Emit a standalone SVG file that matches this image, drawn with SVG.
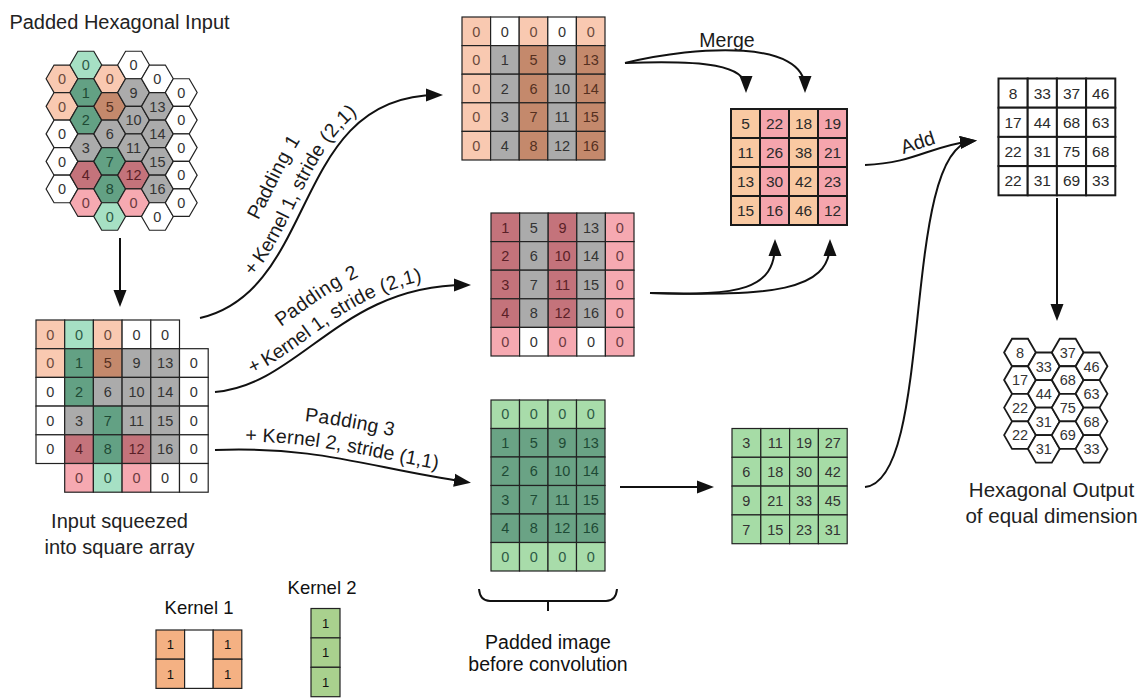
<svg xmlns="http://www.w3.org/2000/svg" width="1145" height="698" viewBox="0 0 1145 698">
<style>
text{font-family:"Liberation Sans","DejaVu Sans",sans-serif;fill:#222}
.t{font-size:20px;text-anchor:middle}
.t2{font-size:20.5px;text-anchor:middle}
.lbl{font-size:19.5px;text-anchor:middle;fill:#1a1a1a}
.cal{font-size:19.5px;text-anchor:middle;fill:#111}
.kl{font-size:18.5px;text-anchor:middle;fill:#111}
.n{font-size:14.5px;text-anchor:middle;fill:#333}
.nb{font-size:15.5px;text-anchor:middle;fill:#2a2a2a}
.k{font-size:13px;text-anchor:middle;fill:#111}
.cell rect,.cell use{stroke:#222;stroke-width:1.2}
.thick rect{stroke:#1a1a1a;stroke-width:2}
.hexo use{stroke:#1a1a1a;stroke-width:1.8;fill:#fff}
.w{fill:#fff}.oL{fill:#f9c9b1}.br{fill:#c4896c}.g{fill:#ababab}.gD{fill:#63a184}.gL{fill:#a6e0c4}
.rD{fill:#c4737b}.pk{fill:#f6a9b1}.gL3{fill:#a8dcaa}.gD3{fill:#6aa385}.gR{fill:#a6dca6}
.pe{fill:#f9c9a2}.pi{fill:#f5a5ad}.k1{fill:#f4b183}.k2{fill:#a9d18e}
.noL{fill:#6b4a3c}.ngD{fill:#1e4a35}.nrD{fill:#5a1f27}.nbr{fill:#55301f}.npk{fill:#6b3a40}.ngL{fill:#2d5a45}
.conn path,.conn line{fill:none;stroke:#111;stroke-width:2}
</style>
<defs>
<path id="hx" d="M-15.9,0L-7.95,-13.77L7.95,-13.77L15.9,0L7.95,13.77L-7.95,13.77Z"/>
<marker id="ah" markerUnits="userSpaceOnUse" markerWidth="17" markerHeight="14" viewBox="0 0 17 14" refX="12" refY="7" orient="auto"><path d="M0,0.5L17,7L0,13.5z" fill="#111"/></marker>
</defs>

<g id="hex-input" class="cell">
<text class="t" x="119.5" y="29">Padded Hexagonal Input</text>
<use href="#hx" x="62" y="78.8" class="oL"/><text class="n noL" x="62" y="84">0</text>
<use href="#hx" x="62" y="106.34" class="oL"/><text class="n noL" x="62" y="111.5">0</text>
<use href="#hx" x="62" y="133.88" class="w"/><text class="n" x="62" y="139.1">0</text>
<use href="#hx" x="62" y="161.42" class="w"/><text class="n" x="62" y="166.6">0</text>
<use href="#hx" x="62" y="188.96" class="w"/><text class="n" x="62" y="194.2">0</text>
<use href="#hx" x="85.85" y="65" class="gL"/><text class="n ngL" x="85.85" y="70.2">0</text>
<use href="#hx" x="85.85" y="92.54" class="gD"/><text class="n ngD" x="85.85" y="97.7">1</text>
<use href="#hx" x="85.85" y="120.08" class="gD"/><text class="n ngD" x="85.85" y="125.3">2</text>
<use href="#hx" x="85.85" y="147.62" class="g"/><text class="n" x="85.85" y="152.8">3</text>
<use href="#hx" x="85.85" y="175.16" class="rD"/><text class="n nrD" x="85.85" y="180.4">4</text>
<use href="#hx" x="85.85" y="202.7" class="pk"/><text class="n npk" x="85.85" y="207.9">0</text>
<use href="#hx" x="109.7" y="78.8" class="oL"/><text class="n noL" x="109.7" y="84">0</text>
<use href="#hx" x="109.7" y="106.34" class="br"/><text class="n nbr" x="109.7" y="111.5">5</text>
<use href="#hx" x="109.7" y="133.88" class="g"/><text class="n" x="109.7" y="139.1">6</text>
<use href="#hx" x="109.7" y="161.42" class="gD"/><text class="n ngD" x="109.7" y="166.6">7</text>
<use href="#hx" x="109.7" y="188.96" class="gD"/><text class="n ngD" x="109.7" y="194.2">8</text>
<use href="#hx" x="109.7" y="216.5" class="gL"/><text class="n ngL" x="109.7" y="221.7">0</text>
<use href="#hx" x="133.55" y="65" class="w"/><text class="n" x="133.55" y="70.2">0</text>
<use href="#hx" x="133.55" y="92.54" class="g"/><text class="n" x="133.55" y="97.7">9</text>
<use href="#hx" x="133.55" y="120.08" class="g"/><text class="n" x="133.55" y="125.3">10</text>
<use href="#hx" x="133.55" y="147.62" class="g"/><text class="n" x="133.55" y="152.8">11</text>
<use href="#hx" x="133.55" y="175.16" class="rD"/><text class="n nrD" x="133.55" y="180.4">12</text>
<use href="#hx" x="133.55" y="202.7" class="pk"/><text class="n npk" x="133.55" y="207.9">0</text>
<use href="#hx" x="157.4" y="78.8" class="w"/><text class="n" x="157.4" y="84">0</text>
<use href="#hx" x="157.4" y="106.34" class="g"/><text class="n" x="157.4" y="111.5">13</text>
<use href="#hx" x="157.4" y="133.88" class="g"/><text class="n" x="157.4" y="139.1">14</text>
<use href="#hx" x="157.4" y="161.42" class="g"/><text class="n" x="157.4" y="166.6">15</text>
<use href="#hx" x="157.4" y="188.96" class="g"/><text class="n" x="157.4" y="194.2">16</text>
<use href="#hx" x="157.4" y="216.5" class="w"/><text class="n" x="157.4" y="221.7">0</text>
<use href="#hx" x="181.25" y="92.54" class="w"/><text class="n" x="181.25" y="97.7">0</text>
<use href="#hx" x="181.25" y="120.08" class="w"/><text class="n" x="181.25" y="125.3">0</text>
<use href="#hx" x="181.25" y="147.62" class="w"/><text class="n" x="181.25" y="152.8">0</text>
<use href="#hx" x="181.25" y="175.16" class="w"/><text class="n" x="181.25" y="180.4">0</text>
<use href="#hx" x="181.25" y="202.7" class="w"/><text class="n" x="181.25" y="207.9">0</text>
</g>

<g id="square-array" class="cell">
<g transform="translate(36,320)">
<rect x="0" y="0" width="28.7" height="28.7" class="oL"/><text class="n noL" x="14.35" y="19.55">0</text>
<rect x="28.7" y="0" width="28.7" height="28.7" class="gL"/><text class="n ngL" x="43.05" y="19.55">0</text>
<rect x="57.4" y="0" width="28.7" height="28.7" class="oL"/><text class="n noL" x="71.75" y="19.55">0</text>
<rect x="86.1" y="0" width="28.7" height="28.7" class="w"/><text class="n" x="100.45" y="19.55">0</text>
<rect x="114.8" y="0" width="28.7" height="28.7" class="w"/><text class="n" x="129.15" y="19.55">0</text>
<rect x="0" y="28.7" width="28.7" height="28.7" class="oL"/><text class="n noL" x="14.35" y="48.25">0</text>
<rect x="28.7" y="28.7" width="28.7" height="28.7" class="gD"/><text class="n ngD" x="43.05" y="48.25">1</text>
<rect x="57.4" y="28.7" width="28.7" height="28.7" class="br"/><text class="n nbr" x="71.75" y="48.25">5</text>
<rect x="86.1" y="28.7" width="28.7" height="28.7" class="g"/><text class="n" x="100.45" y="48.25">9</text>
<rect x="114.8" y="28.7" width="28.7" height="28.7" class="g"/><text class="n" x="129.15" y="48.25">13</text>
<rect x="143.5" y="28.7" width="28.7" height="28.7" class="w"/><text class="n" x="157.85" y="48.25">0</text>
<rect x="0" y="57.4" width="28.7" height="28.7" class="w"/><text class="n" x="14.35" y="76.95">0</text>
<rect x="28.7" y="57.4" width="28.7" height="28.7" class="gD"/><text class="n ngD" x="43.05" y="76.95">2</text>
<rect x="57.4" y="57.4" width="28.7" height="28.7" class="g"/><text class="n" x="71.75" y="76.95">6</text>
<rect x="86.1" y="57.4" width="28.7" height="28.7" class="g"/><text class="n" x="100.45" y="76.95">10</text>
<rect x="114.8" y="57.4" width="28.7" height="28.7" class="g"/><text class="n" x="129.15" y="76.95">14</text>
<rect x="143.5" y="57.4" width="28.7" height="28.7" class="w"/><text class="n" x="157.85" y="76.95">0</text>
<rect x="0" y="86.1" width="28.7" height="28.7" class="w"/><text class="n" x="14.35" y="105.65">0</text>
<rect x="28.7" y="86.1" width="28.7" height="28.7" class="g"/><text class="n" x="43.05" y="105.65">3</text>
<rect x="57.4" y="86.1" width="28.7" height="28.7" class="gD"/><text class="n ngD" x="71.75" y="105.65">7</text>
<rect x="86.1" y="86.1" width="28.7" height="28.7" class="g"/><text class="n" x="100.45" y="105.65">11</text>
<rect x="114.8" y="86.1" width="28.7" height="28.7" class="g"/><text class="n" x="129.15" y="105.65">15</text>
<rect x="143.5" y="86.1" width="28.7" height="28.7" class="w"/><text class="n" x="157.85" y="105.65">0</text>
<rect x="0" y="114.8" width="28.7" height="28.7" class="w"/><text class="n" x="14.35" y="134.35">0</text>
<rect x="28.7" y="114.8" width="28.7" height="28.7" class="rD"/><text class="n nrD" x="43.05" y="134.35">4</text>
<rect x="57.4" y="114.8" width="28.7" height="28.7" class="gD"/><text class="n ngD" x="71.75" y="134.35">8</text>
<rect x="86.1" y="114.8" width="28.7" height="28.7" class="rD"/><text class="n nrD" x="100.45" y="134.35">12</text>
<rect x="114.8" y="114.8" width="28.7" height="28.7" class="g"/><text class="n" x="129.15" y="134.35">16</text>
<rect x="143.5" y="114.8" width="28.7" height="28.7" class="w"/><text class="n" x="157.85" y="134.35">0</text>
<rect x="28.7" y="143.5" width="28.7" height="28.7" class="pk"/><text class="n npk" x="43.05" y="163.05">0</text>
<rect x="57.4" y="143.5" width="28.7" height="28.7" class="gL"/><text class="n ngL" x="71.75" y="163.05">0</text>
<rect x="86.1" y="143.5" width="28.7" height="28.7" class="pk"/><text class="n npk" x="100.45" y="163.05">0</text>
<rect x="114.8" y="143.5" width="28.7" height="28.7" class="w"/><text class="n" x="129.15" y="163.05">0</text>
<rect x="143.5" y="143.5" width="28.7" height="28.7" class="w"/><text class="n" x="157.85" y="163.05">0</text>
</g>
<text class="t" x="119.5" y="528">Input squeezed</text>
<text class="t" x="119.5" y="554">into square array</text>
</g>

<g id="pad1" class="cell" transform="translate(462,17)">
<rect x="0" y="0" width="28.6" height="28.6" class="oL"/><text class="n noL" x="14.3" y="19.5">0</text>
<rect x="28.6" y="0" width="28.6" height="28.6" class="w"/><text class="n" x="42.9" y="19.5">0</text>
<rect x="57.2" y="0" width="28.6" height="28.6" class="oL"/><text class="n noL" x="71.5" y="19.5">0</text>
<rect x="85.8" y="0" width="28.6" height="28.6" class="w"/><text class="n" x="100.1" y="19.5">0</text>
<rect x="114.4" y="0" width="28.6" height="28.6" class="oL"/><text class="n noL" x="128.7" y="19.5">0</text>
<rect x="0" y="28.6" width="28.6" height="28.6" class="oL"/><text class="n noL" x="14.3" y="48.1">0</text>
<rect x="28.6" y="28.6" width="28.6" height="28.6" class="g"/><text class="n" x="42.9" y="48.1">1</text>
<rect x="57.2" y="28.6" width="28.6" height="28.6" class="br"/><text class="n nbr" x="71.5" y="48.1">5</text>
<rect x="85.8" y="28.6" width="28.6" height="28.6" class="g"/><text class="n" x="100.1" y="48.1">9</text>
<rect x="114.4" y="28.6" width="28.6" height="28.6" class="br"/><text class="n nbr" x="128.7" y="48.1">13</text>
<rect x="0" y="57.2" width="28.6" height="28.6" class="oL"/><text class="n noL" x="14.3" y="76.7">0</text>
<rect x="28.6" y="57.2" width="28.6" height="28.6" class="g"/><text class="n" x="42.9" y="76.7">2</text>
<rect x="57.2" y="57.2" width="28.6" height="28.6" class="br"/><text class="n nbr" x="71.5" y="76.7">6</text>
<rect x="85.8" y="57.2" width="28.6" height="28.6" class="g"/><text class="n" x="100.1" y="76.7">10</text>
<rect x="114.4" y="57.2" width="28.6" height="28.6" class="br"/><text class="n nbr" x="128.7" y="76.7">14</text>
<rect x="0" y="85.8" width="28.6" height="28.6" class="oL"/><text class="n noL" x="14.3" y="105.3">0</text>
<rect x="28.6" y="85.8" width="28.6" height="28.6" class="g"/><text class="n" x="42.9" y="105.3">3</text>
<rect x="57.2" y="85.8" width="28.6" height="28.6" class="br"/><text class="n nbr" x="71.5" y="105.3">7</text>
<rect x="85.8" y="85.8" width="28.6" height="28.6" class="g"/><text class="n" x="100.1" y="105.3">11</text>
<rect x="114.4" y="85.8" width="28.6" height="28.6" class="br"/><text class="n nbr" x="128.7" y="105.3">15</text>
<rect x="0" y="114.4" width="28.6" height="28.6" class="oL"/><text class="n noL" x="14.3" y="133.9">0</text>
<rect x="28.6" y="114.4" width="28.6" height="28.6" class="g"/><text class="n" x="42.9" y="133.9">4</text>
<rect x="57.2" y="114.4" width="28.6" height="28.6" class="br"/><text class="n nbr" x="71.5" y="133.9">8</text>
<rect x="85.8" y="114.4" width="28.6" height="28.6" class="g"/><text class="n" x="100.1" y="133.9">12</text>
<rect x="114.4" y="114.4" width="28.6" height="28.6" class="br"/><text class="n nbr" x="128.7" y="133.9">16</text>
</g>

<g id="pad2" class="cell" transform="translate(491,213)">
<rect x="0" y="0" width="28.6" height="28.6" class="rD"/><text class="n nrD" x="14.3" y="19.5">1</text>
<rect x="28.6" y="0" width="28.6" height="28.6" class="g"/><text class="n" x="42.9" y="19.5">5</text>
<rect x="57.2" y="0" width="28.6" height="28.6" class="rD"/><text class="n nrD" x="71.5" y="19.5">9</text>
<rect x="85.8" y="0" width="28.6" height="28.6" class="g"/><text class="n" x="100.1" y="19.5">13</text>
<rect x="114.4" y="0" width="28.6" height="28.6" class="pk"/><text class="n npk" x="128.7" y="19.5">0</text>
<rect x="0" y="28.6" width="28.6" height="28.6" class="rD"/><text class="n nrD" x="14.3" y="48.1">2</text>
<rect x="28.6" y="28.6" width="28.6" height="28.6" class="g"/><text class="n" x="42.9" y="48.1">6</text>
<rect x="57.2" y="28.6" width="28.6" height="28.6" class="rD"/><text class="n nrD" x="71.5" y="48.1">10</text>
<rect x="85.8" y="28.6" width="28.6" height="28.6" class="g"/><text class="n" x="100.1" y="48.1">14</text>
<rect x="114.4" y="28.6" width="28.6" height="28.6" class="pk"/><text class="n npk" x="128.7" y="48.1">0</text>
<rect x="0" y="57.2" width="28.6" height="28.6" class="rD"/><text class="n nrD" x="14.3" y="76.7">3</text>
<rect x="28.6" y="57.2" width="28.6" height="28.6" class="g"/><text class="n" x="42.9" y="76.7">7</text>
<rect x="57.2" y="57.2" width="28.6" height="28.6" class="rD"/><text class="n nrD" x="71.5" y="76.7">11</text>
<rect x="85.8" y="57.2" width="28.6" height="28.6" class="g"/><text class="n" x="100.1" y="76.7">15</text>
<rect x="114.4" y="57.2" width="28.6" height="28.6" class="pk"/><text class="n npk" x="128.7" y="76.7">0</text>
<rect x="0" y="85.8" width="28.6" height="28.6" class="rD"/><text class="n nrD" x="14.3" y="105.3">4</text>
<rect x="28.6" y="85.8" width="28.6" height="28.6" class="g"/><text class="n" x="42.9" y="105.3">8</text>
<rect x="57.2" y="85.8" width="28.6" height="28.6" class="rD"/><text class="n nrD" x="71.5" y="105.3">12</text>
<rect x="85.8" y="85.8" width="28.6" height="28.6" class="g"/><text class="n" x="100.1" y="105.3">16</text>
<rect x="114.4" y="85.8" width="28.6" height="28.6" class="pk"/><text class="n npk" x="128.7" y="105.3">0</text>
<rect x="0" y="114.4" width="28.6" height="28.6" class="pk"/><text class="n npk" x="14.3" y="133.9">0</text>
<rect x="28.6" y="114.4" width="28.6" height="28.6" class="w"/><text class="n" x="42.9" y="133.9">0</text>
<rect x="57.2" y="114.4" width="28.6" height="28.6" class="pk"/><text class="n npk" x="71.5" y="133.9">0</text>
<rect x="85.8" y="114.4" width="28.6" height="28.6" class="w"/><text class="n" x="100.1" y="133.9">0</text>
<rect x="114.4" y="114.4" width="28.6" height="28.6" class="pk"/><text class="n npk" x="128.7" y="133.9">0</text>
</g>

<g id="pad3" class="cell" transform="translate(491,400)">
<rect x="0" y="0" width="28.5" height="28.5" class="gL3"/><text class="n ngL" x="14.25" y="19.45">0</text>
<rect x="28.5" y="0" width="28.5" height="28.5" class="gL3"/><text class="n ngL" x="42.75" y="19.45">0</text>
<rect x="57" y="0" width="28.5" height="28.5" class="gL3"/><text class="n ngL" x="71.25" y="19.45">0</text>
<rect x="85.5" y="0" width="28.5" height="28.5" class="gL3"/><text class="n ngL" x="99.75" y="19.45">0</text>
<rect x="0" y="28.5" width="28.5" height="28.5" class="gD3"/><text class="n ngD" x="14.25" y="47.95">1</text>
<rect x="28.5" y="28.5" width="28.5" height="28.5" class="gD3"/><text class="n ngD" x="42.75" y="47.95">5</text>
<rect x="57" y="28.5" width="28.5" height="28.5" class="gD3"/><text class="n ngD" x="71.25" y="47.95">9</text>
<rect x="85.5" y="28.5" width="28.5" height="28.5" class="gD3"/><text class="n ngD" x="99.75" y="47.95">13</text>
<rect x="0" y="57" width="28.5" height="28.5" class="gD3"/><text class="n ngD" x="14.25" y="76.45">2</text>
<rect x="28.5" y="57" width="28.5" height="28.5" class="gD3"/><text class="n ngD" x="42.75" y="76.45">6</text>
<rect x="57" y="57" width="28.5" height="28.5" class="gD3"/><text class="n ngD" x="71.25" y="76.45">10</text>
<rect x="85.5" y="57" width="28.5" height="28.5" class="gD3"/><text class="n ngD" x="99.75" y="76.45">14</text>
<rect x="0" y="85.5" width="28.5" height="28.5" class="gD3"/><text class="n ngD" x="14.25" y="104.95">3</text>
<rect x="28.5" y="85.5" width="28.5" height="28.5" class="gD3"/><text class="n ngD" x="42.75" y="104.95">7</text>
<rect x="57" y="85.5" width="28.5" height="28.5" class="gD3"/><text class="n ngD" x="71.25" y="104.95">11</text>
<rect x="85.5" y="85.5" width="28.5" height="28.5" class="gD3"/><text class="n ngD" x="99.75" y="104.95">15</text>
<rect x="0" y="114" width="28.5" height="28.5" class="gD3"/><text class="n ngD" x="14.25" y="133.45">4</text>
<rect x="28.5" y="114" width="28.5" height="28.5" class="gD3"/><text class="n ngD" x="42.75" y="133.45">8</text>
<rect x="57" y="114" width="28.5" height="28.5" class="gD3"/><text class="n ngD" x="71.25" y="133.45">12</text>
<rect x="85.5" y="114" width="28.5" height="28.5" class="gD3"/><text class="n ngD" x="99.75" y="133.45">16</text>
<rect x="0" y="142.5" width="28.5" height="28.5" class="gL3"/><text class="n ngL" x="14.25" y="161.95">0</text>
<rect x="28.5" y="142.5" width="28.5" height="28.5" class="gL3"/><text class="n ngL" x="42.75" y="161.95">0</text>
<rect x="57" y="142.5" width="28.5" height="28.5" class="gL3"/><text class="n ngL" x="71.25" y="161.95">0</text>
<rect x="85.5" y="142.5" width="28.5" height="28.5" class="gL3"/><text class="n ngL" x="99.75" y="161.95">0</text>
</g>

<g id="merged" class="cell thick" transform="translate(731,109)">
<rect x="0" y="0" width="29" height="29" class="pe"/><text class="nb" x="14.5" y="20">5</text>
<rect x="29" y="0" width="29" height="29" class="pi"/><text class="nb" x="43.5" y="20">22</text>
<rect x="58" y="0" width="29" height="29" class="pe"/><text class="nb" x="72.5" y="20">18</text>
<rect x="87" y="0" width="29" height="29" class="pi"/><text class="nb" x="101.5" y="20">19</text>
<rect x="0" y="29" width="29" height="29" class="pe"/><text class="nb" x="14.5" y="49">11</text>
<rect x="29" y="29" width="29" height="29" class="pi"/><text class="nb" x="43.5" y="49">26</text>
<rect x="58" y="29" width="29" height="29" class="pe"/><text class="nb" x="72.5" y="49">38</text>
<rect x="87" y="29" width="29" height="29" class="pi"/><text class="nb" x="101.5" y="49">21</text>
<rect x="0" y="58" width="29" height="29" class="pe"/><text class="nb" x="14.5" y="78">13</text>
<rect x="29" y="58" width="29" height="29" class="pi"/><text class="nb" x="43.5" y="78">30</text>
<rect x="58" y="58" width="29" height="29" class="pe"/><text class="nb" x="72.5" y="78">42</text>
<rect x="87" y="58" width="29" height="29" class="pi"/><text class="nb" x="101.5" y="78">23</text>
<rect x="0" y="87" width="29" height="29" class="pe"/><text class="nb" x="14.5" y="107">15</text>
<rect x="29" y="87" width="29" height="29" class="pi"/><text class="nb" x="43.5" y="107">16</text>
<rect x="58" y="87" width="29" height="29" class="pe"/><text class="nb" x="72.5" y="107">46</text>
<rect x="87" y="87" width="29" height="29" class="pi"/><text class="nb" x="101.5" y="107">12</text>
</g>

<g id="conv3" class="cell" transform="translate(732,428.5)">
<rect x="0" y="0" width="28.8" height="28.8" class="gR"/><text class="n" x="14.4" y="19.6">3</text>
<rect x="28.8" y="0" width="28.8" height="28.8" class="gR"/><text class="n" x="43.2" y="19.6">11</text>
<rect x="57.6" y="0" width="28.8" height="28.8" class="gR"/><text class="n" x="72" y="19.6">19</text>
<rect x="86.4" y="0" width="28.8" height="28.8" class="gR"/><text class="n" x="100.8" y="19.6">27</text>
<rect x="0" y="28.8" width="28.8" height="28.8" class="gR"/><text class="n" x="14.4" y="48.4">6</text>
<rect x="28.8" y="28.8" width="28.8" height="28.8" class="gR"/><text class="n" x="43.2" y="48.4">18</text>
<rect x="57.6" y="28.8" width="28.8" height="28.8" class="gR"/><text class="n" x="72" y="48.4">30</text>
<rect x="86.4" y="28.8" width="28.8" height="28.8" class="gR"/><text class="n" x="100.8" y="48.4">42</text>
<rect x="0" y="57.6" width="28.8" height="28.8" class="gR"/><text class="n" x="14.4" y="77.2">9</text>
<rect x="28.8" y="57.6" width="28.8" height="28.8" class="gR"/><text class="n" x="43.2" y="77.2">21</text>
<rect x="57.6" y="57.6" width="28.8" height="28.8" class="gR"/><text class="n" x="72" y="77.2">33</text>
<rect x="86.4" y="57.6" width="28.8" height="28.8" class="gR"/><text class="n" x="100.8" y="77.2">45</text>
<rect x="0" y="86.4" width="28.8" height="28.8" class="gR"/><text class="n" x="14.4" y="106">7</text>
<rect x="28.8" y="86.4" width="28.8" height="28.8" class="gR"/><text class="n" x="43.2" y="106">15</text>
<rect x="57.6" y="86.4" width="28.8" height="28.8" class="gR"/><text class="n" x="72" y="106">23</text>
<rect x="86.4" y="86.4" width="28.8" height="28.8" class="gR"/><text class="n" x="100.8" y="106">31</text>
</g>

<g id="output" class="cell thick" transform="translate(998.5,78.5)">
<rect x="0" y="0" width="29.2" height="29.2" class="w"/><text class="nb" x="14.6" y="20">8</text>
<rect x="29.2" y="0" width="29.2" height="29.2" class="w"/><text class="nb" x="43.8" y="20">33</text>
<rect x="58.4" y="0" width="29.2" height="29.2" class="w"/><text class="nb" x="73" y="20">37</text>
<rect x="87.6" y="0" width="29.2" height="29.2" class="w"/><text class="nb" x="102.2" y="20">46</text>
<rect x="0" y="29.2" width="29.2" height="29.2" class="w"/><text class="nb" x="14.6" y="49.2">17</text>
<rect x="29.2" y="29.2" width="29.2" height="29.2" class="w"/><text class="nb" x="43.8" y="49.2">44</text>
<rect x="58.4" y="29.2" width="29.2" height="29.2" class="w"/><text class="nb" x="73" y="49.2">68</text>
<rect x="87.6" y="29.2" width="29.2" height="29.2" class="w"/><text class="nb" x="102.2" y="49.2">63</text>
<rect x="0" y="58.4" width="29.2" height="29.2" class="w"/><text class="nb" x="14.6" y="78.4">22</text>
<rect x="29.2" y="58.4" width="29.2" height="29.2" class="w"/><text class="nb" x="43.8" y="78.4">31</text>
<rect x="58.4" y="58.4" width="29.2" height="29.2" class="w"/><text class="nb" x="73" y="78.4">75</text>
<rect x="87.6" y="58.4" width="29.2" height="29.2" class="w"/><text class="nb" x="102.2" y="78.4">68</text>
<rect x="0" y="87.6" width="29.2" height="29.2" class="w"/><text class="nb" x="14.6" y="107.6">22</text>
<rect x="29.2" y="87.6" width="29.2" height="29.2" class="w"/><text class="nb" x="43.8" y="107.6">31</text>
<rect x="58.4" y="87.6" width="29.2" height="29.2" class="w"/><text class="nb" x="73" y="107.6">69</text>
<rect x="87.6" y="87.6" width="29.2" height="29.2" class="w"/><text class="nb" x="102.2" y="107.6">33</text>
</g>

<g id="hex-output" class="hexo">
<use href="#hx" x="1020" y="352.5"/><text class="n" x="1020" y="357.7">8</text>
<use href="#hx" x="1020" y="380.04"/><text class="n" x="1020" y="385.2">17</text>
<use href="#hx" x="1020" y="407.58"/><text class="n" x="1020" y="412.8">22</text>
<use href="#hx" x="1020" y="435.12"/><text class="n" x="1020" y="440.3">22</text>
<use href="#hx" x="1043.85" y="366.27"/><text class="n" x="1043.85" y="371.5">33</text>
<use href="#hx" x="1043.85" y="393.81"/><text class="n" x="1043.85" y="399">44</text>
<use href="#hx" x="1043.85" y="421.35"/><text class="n" x="1043.85" y="426.5">31</text>
<use href="#hx" x="1043.85" y="448.89"/><text class="n" x="1043.85" y="454.1">31</text>
<use href="#hx" x="1067.7" y="352.5"/><text class="n" x="1067.7" y="357.7">37</text>
<use href="#hx" x="1067.7" y="380.04"/><text class="n" x="1067.7" y="385.2">68</text>
<use href="#hx" x="1067.7" y="407.58"/><text class="n" x="1067.7" y="412.8">75</text>
<use href="#hx" x="1067.7" y="435.12"/><text class="n" x="1067.7" y="440.3">69</text>
<use href="#hx" x="1091.55" y="366.27"/><text class="n" x="1091.55" y="371.5">46</text>
<use href="#hx" x="1091.55" y="393.81"/><text class="n" x="1091.55" y="399">63</text>
<use href="#hx" x="1091.55" y="421.35"/><text class="n" x="1091.55" y="426.5">68</text>
<use href="#hx" x="1091.55" y="448.89"/><text class="n" x="1091.55" y="454.1">33</text>
<text class="t2" x="1051.5" y="497">Hexagonal Output</text>
<text class="t2" x="1051.5" y="523">of equal dimension</text>
</g>

<g id="kernel1">
<text class="kl" x="199" y="614">Kernel 1</text>
<g class="cell" transform="translate(156,630)">
<rect x="0" y="0" width="28.6" height="29.2" class="k1"/>
<rect x="0" y="29.2" width="28.6" height="29.2" class="k1"/>
<rect x="28.6" y="0" width="28.6" height="58.4" class="w"/>
<rect x="57.2" y="0" width="28.6" height="29.2" class="k1"/>
<rect x="57.2" y="29.2" width="28.6" height="29.2" class="k1"/>
<text class="k" x="14.3" y="19.3">1</text><text class="k" x="14.3" y="48.5">1</text>
<text class="k" x="71.5" y="19.3">1</text><text class="k" x="71.5" y="48.5">1</text>
</g>
</g>

<g id="kernel2">
<text class="kl" x="322" y="594">Kernel 2</text>
<g class="cell" transform="translate(311,608.5)">
<rect x="0" y="0" width="29" height="29.4" class="k2"/>
<rect x="0" y="29.4" width="29" height="29.4" class="k2"/>
<rect x="0" y="58.8" width="29" height="29.4" class="k2"/>
<text class="k" x="14.5" y="19.4">1</text><text class="k" x="14.5" y="48.8">1</text><text class="k" x="14.5" y="78.2">1</text>
</g>
</g>

<g id="brace">
<path d="M479,589Q480,601 490,601L606,601Q616,601 617,589M548,601L548,611" fill="none" stroke="#111" stroke-width="2"/>
<text class="cal" x="548" y="649">Padded image</text>
<text class="cal" x="548" y="671">before convolution</text>
</g>

<g id="connectors" class="conn">
<line x1="120" y1="238" x2="120" y2="302" marker-end="url(#ah)"/>
<path id="c1" d="M200,318C320,290 290,95 438,95" marker-end="url(#ah)"/>
<path id="c2" d="M215,392C300,385 340,285 466,285" marker-end="url(#ah)"/>
<path id="c3" d="M215,450C320,446 370,468 466,482" marker-end="url(#ah)"/>
<path d="M625,63C705,60 746,65 746,88" marker-end="url(#ah)"/>
<path d="M625,63C700,45 805,40 805,88" marker-end="url(#ah)"/>
<path d="M650,293C740,296 775,290 775,244" marker-end="url(#ah)"/>
<path d="M650,293C770,296 830,292 830,244" marker-end="url(#ah)"/>
<line x1="620" y1="487" x2="709" y2="487" marker-end="url(#ah)"/>
<path d="M865,165C915,163 930,146 972,141" marker-end="url(#ah)"/>
<path d="M865,487C935,480 900,150 972,141" marker-end="url(#ah)"/>
<line x1="1057" y1="198" x2="1057" y2="316" marker-end="url(#ah)"/>
</g>

<g id="labels">
<text class="lbl" dy="-34"><textPath href="#c1" startOffset="49%">Padding 1</textPath></text>
<text class="lbl" dy="-8"><textPath href="#c1" startOffset="48.5%">+ Kernel 1, stride (2,1)</textPath></text>
<text class="lbl" dy="-33"><textPath href="#c2" startOffset="50%">Padding 2</textPath></text>
<text class="lbl" dy="-8"><textPath href="#c2" startOffset="50%">+ Kernel 1, stride (2,1)</textPath></text>
<text class="lbl" dy="-32"><textPath href="#c3" startOffset="51%">Padding 3</textPath></text>
<text class="lbl" dy="-8"><textPath href="#c3" startOffset="50%">+ Kernel 2, stride (1,1)</textPath></text>
<text class="lbl" x="727" y="46.5">Merge</text>
<text class="lbl" x="918" y="149" transform="rotate(-18 918 143)">Add</text>
</g>
</svg>
